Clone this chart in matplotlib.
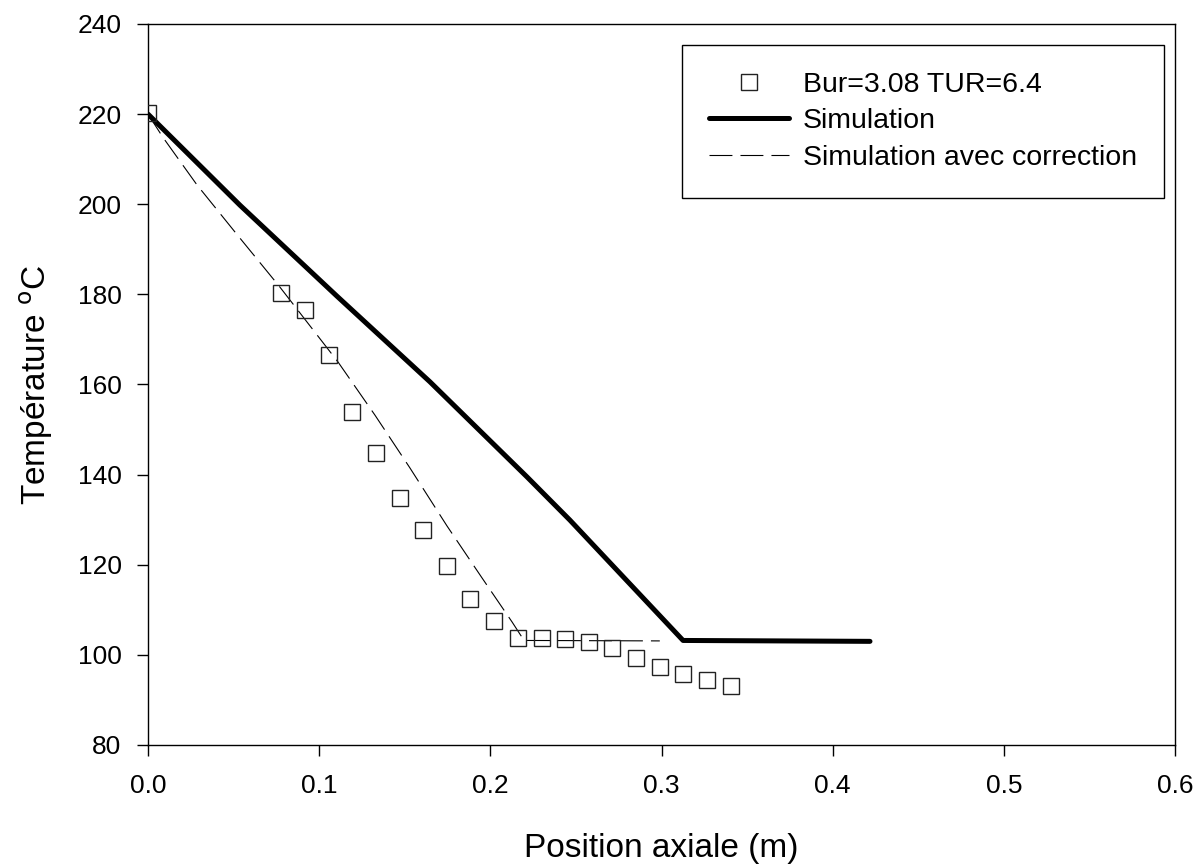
import matplotlib
matplotlib.use("Agg")
import matplotlib.pyplot as plt
from matplotlib.ticker import FormatStrFormatter

# ---- data ----
meas_x = [0.0, 0.0777, 0.0917, 0.1057, 0.1192, 0.1332, 0.1472, 0.1607, 0.1747, 0.1881,
          0.2021, 0.2162, 0.2302, 0.2436, 0.2576, 0.2711, 0.2851, 0.2991, 0.3126, 0.3266, 0.3406]
meas_T = [220.2, 180.3, 176.5, 166.5, 153.9, 144.8, 134.8, 127.7, 119.7, 112.4,
          107.5, 103.7, 103.7, 103.5, 102.8, 101.5, 99.3, 97.3, 95.7, 94.4, 93.1]

sim_x = [0.0, 0.0537, 0.1104, 0.1647, 0.2214, 0.2465, 0.3126, 0.4218]
sim_T = [220.0, 199.8, 179.6, 160.6, 139.5, 129.9, 103.2, 103.0]

corr_x = [0.0, 0.0088, 0.0286, 0.0526, 0.0771, 0.111, 0.1326, 0.153, 0.1747, 0.1951,
          0.2127, 0.2197, 0.299]
corr_T = [220.0, 214.8, 204.3, 193.0, 181.6, 165.0, 153.2, 141.5, 128.6, 117.1,
          107.3, 103.2, 103.1]

labels = ["Bur=3.08 TUR=6.4", "Simulation", "Simulation avec correction"]
xticks = [0.0, 0.1, 0.2, 0.3, 0.4, 0.5, 0.6]
yticks = [80, 100, 120, 140, 160, 180, 200, 220, 240]

plt.rcParams['font.family'] = ['Liberation Sans', 'DejaVu Sans']
plt.rcParams['lines.scale_dashes'] = False

fig = plt.figure(figsize=(12, 8.66), dpi=100)
ax = fig.add_axes([148/1200, 1-745/866, (1175-148)/1200, (745-24)/866])

ax.plot(meas_x, meas_T, linestyle='none', marker='s', markersize=11.5,
        markerfacecolor='none', markeredgecolor='#222222', markeredgewidth=1.0,
        label=labels[0], zorder=3)
ax.plot(sim_x, sim_T, color='black', linewidth=3.6, solid_joinstyle='round',
        solid_capstyle='round', label=labels[1], zorder=2)
ax.plot(corr_x, corr_T, color='black', linewidth=0.8,
        linestyle=(0, (16.5, 5.8)), label=labels[2], zorder=2)

ax.set_xlim(0, 0.6)
ax.set_ylim(80, 240)
ax.set_xticks(xticks)
ax.set_yticks(yticks)
ax.xaxis.set_major_formatter(FormatStrFormatter('%.1f'))
ax.tick_params(axis='both', direction='out', length=8, width=1.0, labelsize=19,
               top=False, right=False)
ax.tick_params(axis='x', pad=13)
ax.tick_params(axis='y', pad=11)
for s in ax.spines.values():
    s.set_linewidth(1.0)
    s.set_color('black')

ax.set_xlabel("Position axiale (m)", fontsize=24, labelpad=25)
ax.set_ylabel("Température $^{\\rm o}$C", fontsize=24, labelpad=16)

leg = ax.legend(loc='upper right', bbox_to_anchor=((1164-148)/1027, (745-45)/721),
                borderaxespad=0, fontsize=20.5, frameon=True, fancybox=False,
                edgecolor='black', framealpha=1, handlelength=2.8,
                handletextpad=0.5, labelspacing=0.36, borderpad=0.95)
leg.get_frame().set_linewidth(1.0)

fig.savefig("out.png", dpi=100)
